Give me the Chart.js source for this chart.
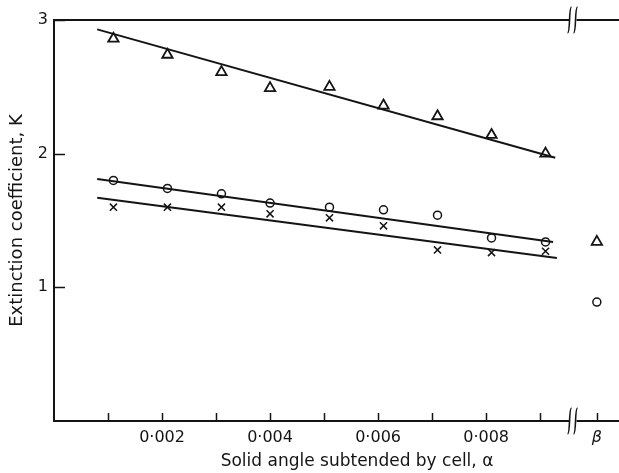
<!DOCTYPE html>
<html>
<head>
<meta charset="utf-8">
<script src="https://cdn.jsdelivr.net/npm/chart.js@4.4.0/dist/chart.umd.min.js"></script>
<style>
  html, body { margin: 0; padding: 0; background: #fff; }
  #wrap { width: 619px; height: 473px; }
</style>
</head>
<body>
<div id="wrap"><canvas id="chart" width="619" height="473"></canvas></div>
<script>
// solid angle of the cell (x) for the measured points
const alphaVals = [0.0011, 0.0021, 0.0031, 0.0040, 0.0051, 0.0061, 0.0071, 0.0081, 0.0091];
// extinction coefficient K, three series
const kTriangle = [2.86, 2.74, 2.61, 2.49, 2.50, 2.36, 2.28, 2.14, 2.00];
const kCircle   = [1.80, 1.74, 1.70, 1.63, 1.60, 1.58, 1.54, 1.37, 1.34];
const kCross    = [1.60, 1.60, 1.60, 1.55, 1.52, 1.46, 1.28, 1.26, 1.27];

// fitted straight lines (start / end)
const fitTriX = [0.0008, 0.00928], fitTriY = [2.93, 1.97];
const fitCirX = [0.0008, 0.00924], fitCirY = [1.81, 1.34];
const fitCroX = [0.0008, 0.00931], fitCroY = [1.67, 1.22];

// the beta values, shown past the axis break
const betaPos = 0.01005;
const betaTriangle = 1.34;
const betaCircle = 0.89;
const breakPos = 0.0096;

// axis ticks
const xTickVals = [0.001, 0.002, 0.003, 0.004, 0.005, 0.006, 0.007, 0.008, 0.009];
const xTickLabels = ["", "0·002", "", "0·004", "", "0·006", "", "0·008", ""];
const yTickVals = [1, 2, 3];
const xMax = 0.01046;

const FONT = "DejaVu Sans";
const INK = "#141414";

function pts(xs, ys) {
  return xs.map((x, i) => ({ x: x, y: ys[i] }));
}

function isBeta(v) {
  return Math.abs(v - betaPos) < 1e-7;
}

// axes frame, inward ticks, axis breaks and x title
const framePlugin = {
  id: "frame",
  beforeDatasetsDraw(chart) {
    const { ctx, chartArea: a, scales } = chart;
    const xs = scales.x, ys = scales.y;
    ctx.save();
    ctx.strokeStyle = INK;
    ctx.lineWidth = 2;
    ctx.beginPath();
    ctx.moveTo(a.left, a.top);
    ctx.lineTo(a.right, a.top);
    ctx.moveTo(a.left, a.top - 1);
    ctx.lineTo(a.left, a.bottom);
    ctx.lineTo(a.right, a.bottom);
    ctx.stroke();
    ctx.lineWidth = 1.5;
    ctx.beginPath();
    xTickVals.concat([betaPos]).forEach((v) => {
      const px = Math.round(xs.getPixelForValue(v)) + 0.5;
      ctx.moveTo(px, a.bottom);
      ctx.lineTo(px, a.bottom - 8);
    });
    yTickVals.forEach((v) => {
      const py = Math.round(ys.getPixelForValue(v)) + 0.5;
      ctx.moveTo(a.left, py);
      ctx.lineTo(a.left + 11, py);
    });
    ctx.stroke();
    ctx.restore();
  },
  afterDraw(chart) {
    const { ctx, chartArea: a, scales } = chart;
    const bx = scales.x.getPixelForValue(breakPos);
    ctx.save();
    [a.top, a.bottom].forEach((y) => {
      ctx.fillStyle = "#fff";
      ctx.fillRect(bx - 3, y - 2, 7, 4);
      ctx.strokeStyle = INK;
      ctx.lineWidth = 1.6;
      [-3, 3].forEach((dx) => {
        const x = bx + dx;
        ctx.beginPath();
        ctx.moveTo(x - 2, y + 13);
        ctx.bezierCurveTo(x + 1, y + 13, x - 1, y - 13, x + 2, y - 13);
        ctx.stroke();
      });
    });
    // x axis title
    ctx.fillStyle = INK;
    ctx.font = "17px " + FONT;
    ctx.textAlign = "center";
    ctx.textBaseline = "middle";
    ctx.fillText("Solid angle subtended by cell, α", 357, 462);
    ctx.restore();
  }
};

const scatterStyle = {
  showLine: false,
  borderColor: INK,
  backgroundColor: "rgba(0,0,0,0)"
};
const lineStyle = {
  showLine: true,
  borderColor: INK,
  borderWidth: 2,
  pointRadius: 0
};

new Chart(document.getElementById("chart").getContext("2d"), {
  type: "scatter",
  data: {
    datasets: [
      Object.assign({ data: pts(fitTriX, fitTriY) }, lineStyle),
      Object.assign({ data: pts(fitCirX, fitCirY) }, lineStyle),
      Object.assign({ data: pts(fitCroX, fitCroY) }, lineStyle),
      Object.assign({
        data: pts(alphaVals, kTriangle).concat([{ x: betaPos, y: betaTriangle }]),
        pointStyle: "triangle", pointRadius: 6, borderWidth: 1.8
      }, scatterStyle),
      Object.assign({
        data: pts(alphaVals, kCircle).concat([{ x: betaPos, y: betaCircle }]),
        pointStyle: "circle", pointRadius: 4, borderWidth: 1.5
      }, scatterStyle),
      Object.assign({
        data: pts(alphaVals, kCross),
        pointStyle: "crossRot", pointRadius: 5, borderWidth: 1.5
      }, scatterStyle)
    ]
  },
  options: {
    responsive: false,
    animation: false,
    events: [],
    layout: { autoPadding: false, padding: { top: 20, right: 0, left: 0, bottom: 0 } },
    plugins: { legend: { display: false }, tooltip: { enabled: false } },
    scales: {
      x: {
        type: "linear",
        min: 0,
        max: xMax,
        grid: { display: false, drawTicks: false },
        border: { display: false },
        afterBuildTicks: (s) => {
          s.ticks = xTickVals.concat([betaPos]).map((v) => ({ value: v }));
        },
        afterFit: (s) => {
          s.height = 52;
          s.paddingLeft = 0;
          s.paddingRight = 0;
        },
        ticks: {
          autoSkip: false,
          maxRotation: 0,
          padding: 7,
          color: INK,
          font: (c) => ({
            family: FONT,
            size: 16,
            style: c.tick && isBeta(c.tick.value) ? "italic" : "normal"
          }),
          callback: (v) => {
            if (isBeta(v)) return "β";
            const i = xTickVals.findIndex((t) => Math.abs(t - v) < 1e-7);
            return i >= 0 ? xTickLabels[i] : "";
          }
        }
      },
      y: {
        type: "linear",
        min: 0,
        max: 3,
        grid: { display: false, drawTicks: false },
        border: { display: false },
        afterBuildTicks: (s) => {
          s.ticks = yTickVals.map((v) => ({ value: v }));
        },
        afterFit: (s) => {
          s.width = 54;
          s.paddingTop = 0;
          s.paddingBottom = 0;
        },
        title: {
          display: true,
          text: "Extinction coefficient, K",
          color: INK,
          font: { family: FONT, size: 18 },
          padding: { top: 7, bottom: 0 }
        },
        ticks: {
          padding: 6,
          color: INK,
          font: { family: FONT, size: 16 },
          callback: (v) => String(v)
        }
      }
    }
  },
  plugins: [framePlugin]
});
</script>
</body>
</html>
